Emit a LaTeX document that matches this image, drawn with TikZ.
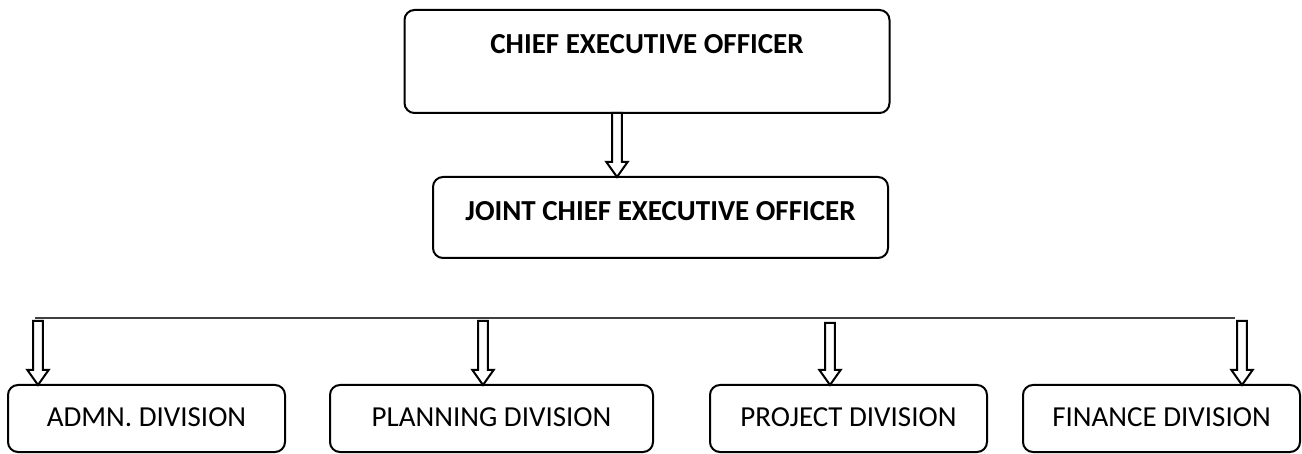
\documentclass[tikz,border=0pt]{standalone}
\usepackage{fontspec}
\setmainfont{Carlito}
\usetikzlibrary{positioning,calc}
\tikzset{
  post/.style={rectangle, draw, line width=1pt, rounded corners=5pt,
    inner xsep=0pt, inner ysep=0pt, outer sep=0pt, text centered,
    font=\fontsize{14.5pt}{17pt}\selectfont},
  topbox/.style={post, font=\fontsize{14.5pt}{17pt}\selectfont\bfseries},
  division/.style={post, minimum width=138.5pt, text height=21pt, text depth=12.5pt},
  hollow/.style={draw, line width=1pt, fill=white, line join=miter},
  bus/.style={draw=black!75, line width=0.8pt}
}
\newcommand{\hollowarrow}[2]{%
  \draw[hollow] let \p1=(#1), \p2=(#2) in
    (\x1-2.4pt,\y1) -- (\x1+2.4pt,\y1) -- (\x1+2.4pt,\y2+7.5pt)
    -- (\x1+5.3pt,\y2+7.5pt) -- (\x1,\y2) -- (\x1-5.3pt,\y2+7.5pt)
    -- (\x1-2.4pt,\y2+7.5pt) -- cycle;}

\begin{document}
\begin{tikzpicture}[x=0.5pt,y=-0.5pt]
  \useasboundingbox (0,0) rectangle (1302,454);

  \node[topbox, minimum width=242.5pt, text height=22pt, text depth=29.5pt]
        (ceo)                                    at (647,61.5) {CHIEF EXECUTIVE OFFICER};
  \node[topbox, minimum width=227.5pt, text height=22pt, text depth=18.5pt]
        (jceo) [below=32pt of ceo, xshift=6.75pt]  {JOINT CHIEF EXECUTIVE OFFICER};

  \node[division] (admn)    [below=63.5pt of jceo, xshift=-257pt] {ADMN. DIVISION};
  \node[division, minimum width=161.5pt]
                  (plan)    [right=22.5pt of admn]    {PLANNING DIVISION};
  \node[division] (project) [right=28.5pt of plan]    {PROJECT DIVISION};
  \node[division] (finance) [right=18pt of project]   {FINANCE DIVISION};

  % ceo to joint ceo
  \hollowarrow{$(ceo.south)+(-30,0)$}{jceo.north}

  % bus over the divisions
  \coordinate (bus west) at ($(admn.north west)+(27,-67)$);
  \coordinate (bus east) at ($(finance.north west)+(212,-67)$);
  \path[bus] (bus west) -- (bus east);

  \hollowarrow{$(admn.north west)+(30,-64)$}{admn.north}
  \hollowarrow{$(plan.north west)+(153,-64)$}{plan.north}
  \hollowarrow{$(project.north west)+(120,-62)$}{project.north}
  \hollowarrow{$(finance.north west)+(219,-64)$}{finance.north}
\end{tikzpicture}
\end{document}
